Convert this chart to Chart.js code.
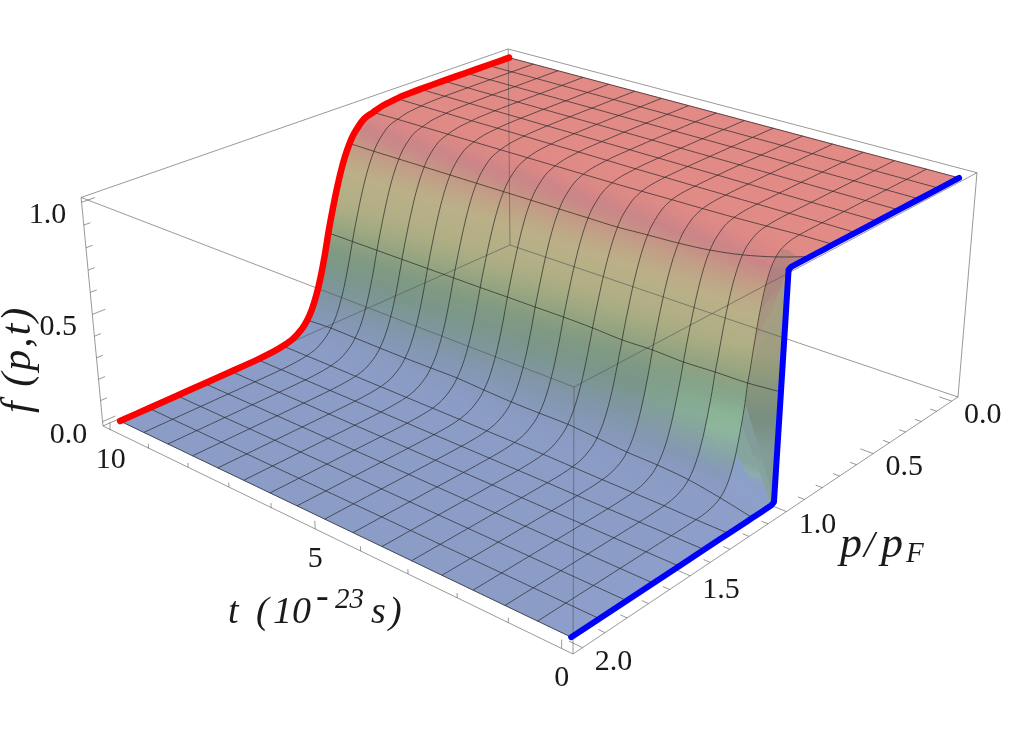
<!DOCTYPE html>
<html>
<head>
<meta charset="utf-8">
<title>f(p,t)</title>
<script src="https://cdn.jsdelivr.net/npm/chart.js@4/dist/chart.umd.min.js"></script>
<style>
  html, body { margin: 0; padding: 0; background: #fff; }
  #wrap { width: 1009px; height: 747px; }
</style>
</head>
<body>
<div id="wrap"><canvas id="surface" width="1009" height="747"></canvas></div>
<script>
// sample times (10^-23 s), one row of fValues each
const tValues = [0, 0.625, 1.25, 1.875, 2.5, 3.125, 3.75, 4.375, 5, 5.625, 6.25, 6.875, 7.5, 8.125, 8.75, 9.375, 10];
// sample momenta p/pF, one column of fValues each
const pValues = [0, 0.125, 0.25, 0.375, 0.5, 0.6, 0.625, 0.7, 0.75, 0.8, 0.85, 0.875, 0.9, 0.925, 0.95, 0.975, 0.99, 1, 1.01, 1.025, 1.05, 1.075, 1.1, 1.125, 1.15, 1.2, 1.25, 1.3, 1.375, 1.5, 1.625, 1.75, 1.875, 2];
// f(p,t)
const fValues = [
  [1,1,1,1,1,1,1,1,1,1,1,1,1,1,1,1,.993,.486,.007,0,0,0,0,0,0,0,0,0,0,0,0,0,0,0],
  [1,1,1,1,1,1,1,.999,.998,.993,.976,.955,.917,.853,.752,.614,.52,.473,.389,.301,.182,.103,.056,.03,.016,.004,.001,0,0,0,0,0,0,0],
  [1,1,1,1,.999,.999,.999,.997,.993,.982,.951,.92,.873,.804,.709,.592,.515,.47,.409,.332,.224,.144,.089,.054,.032,.011,.004,.001,0,0,0,0,0,0],
  [1,1,1,1,.999,.998,.998,.995,.988,.972,.932,.897,.847,.777,.687,.582,.514,.464,.413,.343,.239,.158,.102,.064,.039,.014,.005,.002,0,0,0,0,0,0],
  [1,1,1,1,.999,.998,.997,.993,.985,.965,.922,.884,.832,.763,.677,.577,.513,.468,.416,.345,.242,.162,.105,.067,.041,.016,.006,.002,0,0,0,0,0,0],
  [1,1,1,1,.999,.997,.996,.992,.983,.961,.915,.877,.825,.756,.673,.574,.512,.464,.421,.354,.254,.175,.117,.077,.049,.02,.008,.003,.001,0,0,0,0,0],
  [1,1,1,1,.999,.997,.996,.99,.98,.957,.909,.869,.816,.748,.666,.572,.512,.47,.426,.361,.265,.188,.129,.086,.057,.024,.01,.004,.001,0,0,0,0,0],
  [1,1,1,1,.999,.997,.995,.989,.978,.955,.907,.868,.815,.747,.665,.572,.512,.472,.426,.36,.264,.187,.127,.085,.056,.024,.01,.004,.001,0,0,0,0,0],
  [1,1,1,1,.999,.997,.995,.988,.977,.954,.906,.867,.815,.746,.664,.571,.512,.471,.425,.36,.263,.186,.127,.085,.056,.024,.01,.004,.001,0,0,0,0,0],
  [1,1,1,1,.999,.997,.995,.988,.976,.954,.905,.866,.814,.745,.663,.571,.512,.471,.427,.362,.267,.19,.131,.09,.06,.026,.011,.004,.001,0,0,0,0,0],
  [1,1,1,1,.999,.996,.994,.987,.975,.953,.904,.865,.812,.744,.663,.57,.512,.47,.427,.364,.271,.196,.137,.096,.064,.027,.011,.005,.001,0,0,0,0,0],
  [1,1,1,1,.999,.996,.994,.986,.974,.953,.904,.864,.811,.743,.662,.57,.512,.47,.427,.363,.27,.194,.135,.094,.062,.027,.011,.005,.001,0,0,0,0,0],
  [1,1,1,1,.999,.996,.994,.986,.973,.952,.903,.863,.81,.743,.662,.57,.512,.47,.427,.363,.269,.193,.134,.092,.061,.026,.011,.005,.001,0,0,0,0,0],
  [1,1,1,1,.999,.996,.993,.985,.972,.952,.902,.862,.809,.742,.661,.57,.512,.47,.427,.363,.269,.193,.134,.092,.061,.026,.011,.005,.001,0,0,0,0,0],
  [1,1,1,1,.999,.996,.993,.985,.971,.951,.901,.861,.808,.741,.66,.569,.511,.47,.427,.363,.27,.193,.134,.093,.062,.027,.012,.005,.001,0,0,0,0,0],
  [1,1,1,1,.999,.996,.993,.984,.97,.951,.9,.86,.807,.74,.66,.569,.511,.47,.427,.364,.27,.194,.135,.094,.063,.027,.012,.005,.001,0,0,0,0,0],
  [1,1,1,1,.999,.996,.993,.983,.968,.95,.9,.86,.807,.74,.659,.569,.511,.47,.425,.36,.265,.188,.129,.087,.058,.025,.012,.005,.001,0,0,0,0,0]
];
// mesh lines in p
const pMesh = [0.125, 0.25, 0.375, 0.5, 0.625, 0.75, 0.875, 1, 1.125, 1.25, 1.375, 1.5, 1.625, 1.75, 1.875];
// axis ticks
const tTicks = [0, 1, 2, 3, 4, 5, 6, 7, 8, 9, 10];
const pTicks = [0, 0.1, 0.2, 0.3, 0.4, 0.5, 0.6, 0.7, 0.8, 0.9, 1, 1.1, 1.2, 1.3, 1.4, 1.5, 1.6, 1.7, 1.8, 1.9, 2];
const fTicks = [0, 0.1, 0.2, 0.3, 0.4, 0.5, 0.6, 0.7, 0.8, 0.9, 1];
const tLabels = [0, 5, 10];
const pLabels = [0, 0.5, 1, 1.5, 2];
const fLabels = [0, 0.5, 1];

// camera fitted to the box corners; box coords run 0..1 on each side
const camera = [
  [-447.88, 618.97, -31.1, 573],
  [-136.5, -160.04, -288.7, 654],
  [0.21479, 0.24423, -0.056, 1],
];
const PAD = 0.02;

function boxPoint(u, v, w) {
  const row = (r) => r[0] * u + r[1] * v + r[2] * w + r[3];
  const d = row(camera[2]);
  return { x: row(camera[0]) / d, y: row(camera[1]) / d };
}

function inBox(t, p, f) {
  const s = 1 - 2 * PAD;
  return [PAD + s * t / 10, PAD + s * (2 - p) / 2, PAD + s * f];
}

function surfacePoint(t, p, f) {
  return boxPoint(...inBox(t, p, f));
}

// height colours, low to high
const colorStops = [
  [0, 139, 156, 198],
  [0.05, 138, 155, 196],
  [0.12, 132, 152, 182],
  [0.2, 128, 150, 165],
  [0.3, 122, 150, 140],
  [0.4, 127, 153, 130],
  [0.5, 150, 165, 128],
  [0.6, 175, 174, 132],
  [0.75, 187, 176, 136],
  [0.83, 193, 160, 134],
  [0.87, 198, 148, 133],
  [0.92, 202, 132, 136],
  [0.97, 221, 137, 133],
  [1, 226, 139, 134],
];

function mix(a, b, k) {
  return a.map((c, i) => c + (b[i] - c) * k);
}

function heightColor(f) {
  for (let i = 1; i < colorStops.length; i++) {
    if (f <= colorStops[i][0]) {
      const lo = colorStops[i - 1];
      const hi = colorStops[i];
      return mix(lo.slice(1), hi.slice(1), (f - lo[0]) / (hi[0] - lo[0]));
    }
  }
  return colorStops[colorStops.length - 1].slice(1);
}

// light glancing off the steep part near t = 0
function litColor(t, f) {
  let c = heightColor(f);
  // the sharpest stretch of the step sits in shadow
  if (t < 0.625 && f > 0.15 && f < 0.98) {
    c = mix(c, [110, 120, 115], 0.3);
  }
  const fc = t < 1 ? 0.05 + 0.25 * t : 0.3;
  const reach = t < 0.6 ? 0.5 : Math.max(0, 1 - (t - 0.6) / 2.2);
  const k = Math.max(0, 1 - Math.abs(f - fc) / 0.18) * reach;
  if (k > 0) {
    c = mix(c, f < 0.12 ? [150, 175, 222] : [152, 204, 160], k * 0.8);
  }
  return `rgb(${c.map(Math.round).join(',')})`;
}

const gradCtx = document.getElementById('surface').getContext('2d');

function cellPaint(tMid, a, b, fa, fb) {
  const g = gradCtx.createLinearGradient(a.x, a.y, b.x, b.y);
  g.addColorStop(0, litColor(tMid, fa));
  g.addColorStop(0.5, litColor(tMid, (fa + fb) / 2));
  g.addColorStop(1, litColor(tMid, fb));
  return g;
}

function line(points, color, width, extra) {
  return {
    data: points,
    showLine: true,
    fill: false,
    borderColor: color,
    borderWidth: width,
    pointRadius: 0,
    tension: 0,
    clip: false,
    ...extra,
  };
}

const paintOrder = [];

// surface cells, far side first
pValues.slice(0, -1).forEach((p, j) => {
  const p2 = pValues[j + 1];
  tValues.slice(0, -1).forEach((t, i) => {
    const t2 = tValues[i + 1];
    const tMid = (t + t2) / 2;
    const fa = fValues[i][j];
    const fb = fValues[i + 1][j];
    const fc = fValues[i + 1][j + 1];
    const fd = fValues[i][j + 1];
    const near = (fa + fb) / 2;
    const far = (fc + fd) / 2;
    const paint = cellPaint(tMid, surfacePoint(tMid, p, near), surfacePoint(tMid, p2, far), near, far);
    paintOrder.push(line([
      surfacePoint(t, p, fa),
      surfacePoint(t2, p, fb),
      surfacePoint(t2, p2, fc),
      surfacePoint(t, p2, fd),
      surfacePoint(t, p, fa),
    ], paint, 1, { fill: 'shape', backgroundColor: paint }));
  });
});

// bounding box
const boxEdges = [
  [[0, 0, 0], [1, 0, 0]], [[1, 0, 0], [1, 1, 0]], [[1, 1, 0], [0, 1, 0]], [[0, 1, 0], [0, 0, 0]],
  [[0, 0, 1], [1, 0, 1]], [[1, 0, 1], [1, 1, 1]], [[1, 1, 1], [0, 1, 1]], [[0, 1, 1], [0, 0, 1]],
  [[0, 0, 0], [0, 0, 1]], [[1, 0, 0], [1, 0, 1]], [[1, 1, 0], [1, 1, 1]], [[0, 1, 0], [0, 1, 1]],
];
boxEdges.forEach(([a, b]) => {
  paintOrder.push(line([boxPoint(...a), boxPoint(...b)], 'rgba(85,85,85,0.6)', 1));
});

// tick marks
tTicks.forEach((t) => {
  const [u] = inBox(t, 0, 0);
  const len = t % 5 === 0 ? 0.035 : 0.02;
  paintOrder.push(line([boxPoint(u, 0, 0), boxPoint(u, 0, len)], 'rgba(85,85,85,0.6)', 1));
});
pTicks.forEach((p, i) => {
  const v = inBox(0, p, 0)[1];
  const len = i % 5 === 0 ? 0.024 : 0.012;
  paintOrder.push(line([boxPoint(0, v, 0), boxPoint(len, v, 0)], 'rgba(85,85,85,0.6)', 1));
});
fTicks.forEach((f, i) => {
  const w = inBox(0, 0, f)[2];
  const len = i % 5 === 0 ? 0.026 : 0.013;
  paintOrder.push(line([boxPoint(1, 0, w), boxPoint(1, len, w)], 'rgba(85,85,85,0.6)', 1));
});

// mesh
tValues.forEach((t, i) => {
  const pts = pValues.map((p, j) => surfacePoint(t, p, fValues[i][j]));
  paintOrder.push(line(pts, 'rgba(35,35,35,0.68)', 1, { tension: i === 0 ? 0 : 0.3 }));
});
[0, ...pMesh, 2].forEach((p) => {
  const j = pValues.indexOf(p);
  const pts = tValues.map((t, i) => surfacePoint(t, p, fValues[i][j]));
  paintOrder.push(line(pts, 'rgba(35,35,35,0.68)', 1, { tension: 0.3 }));
});

// t = 10 and t = 0 edges
const last = tValues.length - 1;
const thick = { borderCapStyle: 'round', borderJoinStyle: 'round' };
paintOrder.push(line(pValues.map((p, j) => surfacePoint(10, p, fValues[last][j])), '#ff0000', 6.5, { ...thick, tension: 0.3 }));
paintOrder.push(line(pValues.map((p, j) => surfacePoint(0, p, fValues[0][j])), '#0000ff', 6, thick));

const SERIF = '"Liberation Serif", serif';
const TICK_FONT = `30px ${SERIF}`;

function put(ctx, text, x, y, font) {
  ctx.font = font;
  ctx.fillText(text, x, y);
}

const axisText = {
  id: 'axisText',
  afterDraw(c) {
    const ctx = c.ctx;
    const sx = c.scales.x;
    const sy = c.scales.y;
    ctx.save();
    ctx.fillStyle = '#1a1a1a';
    ctx.textAlign = 'center';
    ctx.textBaseline = 'middle';
    const at = (pt, dx, dy) => [sx.getPixelForValue(pt.x) + dx, sy.getPixelForValue(pt.y) + dy];
    tLabels.forEach((t) => {
      const [x, y] = at(boxPoint(inBox(t, 0, 0)[0], 0, 0), 0, 30);
      put(ctx, String(t), x, y, TICK_FONT);
    });
    pLabels.forEach((p) => {
      const [x, y] = at(boxPoint(0, inBox(0, p, 0)[1], 0), 31, 14);
      put(ctx, p.toFixed(1), x, y, TICK_FONT);
    });
    fLabels.forEach((f) => {
      const [x, y] = at(boxPoint(1, 0, inBox(0, 0, f)[2]), -34, 13);
      put(ctx, f.toFixed(1), x, y, TICK_FONT);
    });

    // axis titles
    ctx.textAlign = 'left';
    ctx.textBaseline = 'alphabetic';
    const big = `italic 38px ${SERIF}`;
    const small = `italic 29px ${SERIF}`;
    put(ctx, 't', 228, 623, big);
    put(ctx, '(', 256, 623, big);
    put(ctx, '10', 273, 623, big);
    put(ctx, '-', 316, 608, big);
    put(ctx, '23', 335, 608, small);
    put(ctx, 's', 371, 623, big);
    put(ctx, ')', 389, 623, big);

    const pFont = `italic 44px ${SERIF}`;
    put(ctx, 'p', 840, 557, pFont);
    put(ctx, '/', 864, 557, big);
    put(ctx, 'p', 881, 557, pFont);
    put(ctx, 'F', 906, 562, small);

    ctx.translate(30, 413);
    ctx.rotate(-Math.PI / 2);
    ctx.letterSpacing = '2px';
    put(ctx, 'f (p,t)', 0, 0, `italic 42px ${SERIF}`);
    ctx.restore();
  },
};

new Chart(document.getElementById('surface'), {
  type: 'scatter',
  data: { datasets: paintOrder.slice().reverse() },
  options: {
    responsive: false,
    animation: false,
    events: [],
    layout: { padding: 0 },
    plugins: { legend: { display: false }, tooltip: { enabled: false } },
    scales: {
      x: { type: 'linear', min: 0, max: 1009, display: false },
      y: { type: 'linear', min: 0, max: 747, reverse: true, display: false },
    },
  },
  plugins: [axisText],
});
</script>
</body>
</html>
